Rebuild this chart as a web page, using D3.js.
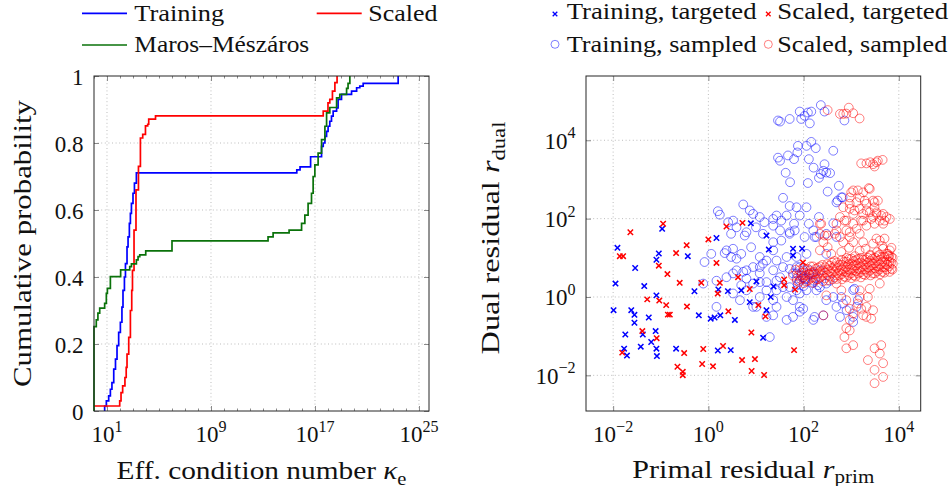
<!DOCTYPE html>
<html>
<head>
<meta charset="utf-8">
<script src="https://cdn.jsdelivr.net/npm/d3@7"></script>
<style>
  html, body { margin: 0; padding: 0; background: #fff; }
  svg text { font-family: "Liberation Serif", "DejaVu Serif", serif; }
</style>
</head>
<body>
<svg id="chart" width="952" height="486"></svg>
<script>
// ---------------- data ----------------
// Empirical CDFs of the effective condition number: [kappa, cumulative probability]
const ecdfTraining = [
  [6.6, 0], [6.6, 0.015], [8.9, 0.03], [13.5, 0.045], [18.2, 0.065], [24, 0.085], [33, 0.125],
  [45, 0.155], [59, 0.195], [79, 0.235], [107, 0.265], [141, 0.31], [170, 0.36], [219, 0.40],
  [263, 0.44], [347, 0.49], [417, 0.52], [525, 0.56], [631, 0.59], [759, 0.62], [1000, 0.65],
  [1290, 0.68], [1820, 0.711], [3.98e15, 0.72], [7.1e15, 0.729], [4.6e16, 0.759], [3.2e17, 0.79],
  [4.3e17, 0.80], [5.8e17, 0.82], [7.8e17, 0.835], [1.02e18, 0.85], [1.38e18, 0.865],
  [1.86e18, 0.88], [2.5e18, 0.895], [4.6e18, 0.905], [6.0e18, 0.93], [1.1e19, 0.945],
  [6.5e19, 0.955], [1.6e20, 0.965], [2.8e20, 0.97], [5.1e20, 0.978], [2.5e23, 1.0]
];
const ecdfScaled = [
  [1, 0.015], [95, 0.03], [120, 0.055], [160, 0.075], [240, 0.10], [300, 0.13], [347, 0.17],
  [470, 0.22], [631, 0.30], [800, 0.36], [912, 0.42], [1200, 0.54], [1700, 0.66], [2630, 0.73],
  [3720, 0.815], [5600, 0.826], [9100, 0.851], [1.35e4, 0.856], [1.62e4, 0.871], [5.4e4, 0.881],
  [4.3e17, 0.895], [1.0e18, 0.92], [1.38e18, 0.93], [2.2e18, 0.955], [3.4e18, 0.98], [5.0e18, 1.0]
];
const ecdfMaros = [
  [1, 0], [1, 0.252], [1.5, 0.272], [2.0, 0.292], [2.75, 0.307], [6.6, 0.321], [8.9, 0.351],
  [10.7, 0.366], [18.2, 0.401], [112, 0.421], [562, 0.431], [759, 0.439], [1820, 0.451],
  [2450, 0.461], [3310, 0.466], [9550, 0.478], [1e6, 0.508], [2.45e13, 0.52], [6.0e13, 0.532],
  [1.02e15, 0.54], [9.3e15, 0.56], [1.66e16, 0.585], [2.95e16, 0.62], [5.4e16, 0.65],
  [7.2e16, 0.70], [9.8e16, 0.735], [1.74e17, 0.77], [3.2e17, 0.81], [5.8e17, 0.85],
  [7.8e17, 0.89], [1.38e18, 0.906], [4.6e18, 0.935], [8.1e18, 0.945], [2.7e19, 0.963],
  [3.5e19, 0.978], [4.8e19, 1.0]
];
const curveNames = ["Training", "Scaled", "Maros–Mészáros"];

// Residual pairs: [primal residual, dual residual]
const trainingTargeted = [
  [0.0123, 18], [0.0112, 2.2], [0.0102, 0.46], [0.029, 5.5], [0.045, 1.9], [0.024, 0.46],
  [0.028, 0.35], [0.028, 0.22], [0.056, 0.30], [0.018, 0.11], [0.042, 0.11], [0.038, 0.054],
  [0.017, 0.048], [0.0195, 0.032], [0.063, 0.071], [0.078, 0.135], [0.081, 0.048], [0.083, 0.031],
  [0.081, 1.1], [0.081, 8.9], [0.091, 12.9], [0.37, 11], [0.21, 0.048], [0.51, 1.4], [0.63, 0.34],
  [1.12, 0.28], [1.35, 0.30], [1.78, 0.34], [1.58, 0.043], [2.95, 0.044], [1.62, 1.55], [2.57, 1.41],
  [3.6, 0.26], [4.9, 1.48], [7.4, 0.74], [10.2, 2.5], [16.6, 0.46], [20.4, 1.0], [23.4, 1.86],
  [14.1, 0.091], [18.6, 16.2], [16.6, 37], [60, 17], [60, 11.5], [93, 17], [1.48, 32], [0.107, 55],
  [7.8, 76]
];
const scaledTargeted = [
  [0.023, 45], [0.0138, 11], [0.0162, 11], [0.35, 21], [0.091, 6.3], [0.21, 13.2], [0.138, 3.85],
  [0.25, 2.3], [0.052, 0.87], [0.093, 0.81], [0.13, 0.62], [0.141, 0.355], [0.155, 0.355],
  [0.355, 0.57], [0.71, 2.3], [1.48, 7.4], [1.0, 29.5], [1.74, 2.3], [1.57, 1.22], [2.63, 0.43],
  [4.2, 3.2], [7.4, 1.6], [11.2, 0.62], [15.8, 0.32], [8.0, 0.124], [39, 2.8], [39, 2.0], [66, 1.54],
  [63, 0.044], [97, 7.6], [0.041, 0.135], [0.082, 0.089], [0.0155, 0.038], [0.31, 0.037],
  [0.78, 0.047], [2.03, 0.056], [0.74, 0.0195], [1.25, 0.017], [0.224, 0.0166], [0.29, 0.0123],
  [0.29, 0.0101], [5.1, 0.0245], [9.5, 0.026], [8.1, 0.0129], [14.8, 0.0102], [0.112, 74],
  [2.4, 63], [5.2, 78]
];
const trainingSampled = [
  [29, 3.2e4], [32, 3.0e4], [51, 3.5e4], [83, 5.4e4], [89, 3.5e4], [105, 4.2e4], [123, 5.1e4],
  [135, 2.7e4], [145, 5.4e4], [230, 7.9e4], [275, 5.4e4], [720, 3.2e4],
  [145, 9100], [115, 7200], [76, 7200], [74, 4900], [180, 6300], [420, 5400], [29, 3600], [32, 3000],
  [47, 4100], [63, 3300], [129, 3300], [42, 1480], [52, 850], [123, 810], [162, 2000], [210, 1100],
  [260, 1660], [275, 2450], [300, 1500], [360, 1450], [230, 1380], [550, 690], [320, 490], [490, 260],
  [620, 350],
  [37, 340], [51, 210], [115, 195], [71, 195], [5.4, 230], [1.58, 155], [1.74, 126], [7.4, 162],
  [27, 120], [44, 120], [83, 120], [210, 110], [129, 74], [63, 74], [34, 89], [23, 98], [12, 110],
  [8.7, 132], [3.3, 89], [2.6, 81], [10, 60], [6.3, 45], [3.9, 60], [15, 81], [23, 66], [32, 50],
  [51, 45], [65, 50], [105, 34], [160, 50], [420, 76], [520, 290], [660, 350],
  [0.83, 7.8], [1.15, 12.6], [2.2, 13.2], [3.3, 17], [4.9, 12.6], [7.9, 18.6], [12, 10.5], [23, 15.5],
  [34, 27.5], [51, 41], [170, 34], [3.0, 41], [5.8, 37], [14, 41], [23, 25],
  [5.4, 4.4], [8.7, 5.8], [14, 7.1], [6.3, 2.95], [12, 4.0], [23, 4.8], [32, 3.2], [51, 5.2], [71, 5.8],
  [107, 2.95], [83, 2.6], [16.6, 2.4], [27, 1.48], [51, 1.78], [83, 1.23], [60, 0.83], [83, 0.56],
  [98, 0.5], [27, 0.56], [23, 0.34], [44, 0.26], [19.5, 0.095], [4.9, 2.0], [3.3, 4.0], [170, 0.31],
  [160, 0.26], [260, 0.34], [300, 0.83], [420, 1.0], [620, 1.0], [800, 0.46], [1100, 0.31],
  [1100, 0.23], [1170, 1.62], [1380, 0.83], [490, 0.56], [580, 0.31], [186, 1.48], [220, 1.78],
  [300, 2.2], [160, 4.0], [115, 12.6], [186, 34], [300, 41], [490, 34], [10.2, 0.56],
  [2.4, 15.5], [3.9, 9.5], [3.0, 10.5], [300, 12.6], [220, 4.8], [355, 2.6], [135, 4.8], [98, 3.2],
  [160, 2.6], [71, 4.0], [83, 5.8],
  [0.78, 2.2], [1.48, 2.6], [2.4, 3.2], [6.3, 1.48], [8.7, 2.2], [12, 1.0], [16.6, 1.48], [27, 2.6],
  [37, 5.8], [60, 4.0], [71, 2.95], [98, 4.8], [6.3, 4.8], [3.9, 4.8], [12, 5.8], [16.6, 8.5],
  [27, 8.5], [44, 10.5], [71, 10.5], [1.48, 0.56], [3.3, 1.23], [4.6, 0.83], [8.7, 0.56], [23, 0.83],
  [44, 1.0], [71, 1.48], [115, 1.48], [83, 0.42], [60, 0.31], [16.6, 0.31], [12, 2.4], [37, 1.78],
  [90, 3.5], [110, 2.8], [130, 3.9], [150, 2.3], [75, 2.1], [100, 1.9], [180, 3.0], [200, 2.0],
  [670, 0.68], [1290, 0.56], [1100, 1.5]
];
const scaledSampled = [
  [320, 5.9e4], [580, 4.7e4], [680, 4.7e4], [790, 4.8e4], [890, 6.8e4], [1100, 4.9e4], [1500, 3.6e4],
  [1620, 2570], [2090, 2570], [2510, 2750], [3090, 2140], [3630, 3020], [4570, 3160], [3390, 2750],
  [2880, 2450],
  [1100, 525], [1780, 468], [2340, 603], [1510, 347], [930, 347], [1290, 263], [2090, 240],
  [2880, 288], [3090, 195], [1510, 178], [930, 178], [680, 195], [1100, 132], [1780, 132],
  [2450, 145], [3390, 132], [4270, 120], [5500, 110], [6460, 98], [3980, 89], [2630, 98], [1620, 89],
  [1100, 74], [720, 89], [490, 74], [490, 50], [790, 50], [1290, 55], [2090, 66], [3090, 74],
  [4680, 74], [2880, 110], [220, 74], [320, 37], [580, 34], [930, 34], [3390, 31], [5010, 31],
  [3630, 288],
  [1000, 468], [1380, 525], [2450, 575], [3090, 263], [1910, 288], [930, 240], [1170, 162],
  [2090, 162], [3390, 145], [4680, 132], [5010, 89], [1780, 89], [790, 89], [580, 110], [450, 41],
  [930, 45], [1510, 41], [3980, 27.5], [6460, 15.5], [4680, 17], [2880, 23], [1780, 25], [1100, 25],
  [680, 25], [320, 18.6], [380, 12.6], [620, 14.1], [234, 74], [275, 37], [220, 41], [5890, 12.6],
  [260, 25], [220, 15.5],
  [1500, 15], [2500, 12], [3500, 14], [6000, 11], [800, 10], [1200, 11], [2000, 17], [4500, 20],
  [7000, 18], [900, 18], [60, 3.5], [68, 5.0], [72, 2.6],
  [80, 2.4], [77, 3.55], [82, 4.79], [101, 2.24], [97, 3.02], [103, 4.17], [99, 5.62],
  [124, 2.63], [129, 3.72], [122, 5.25], [160, 2.29], [155, 3.16], [162, 4.37], [157, 6.03],
  [197, 2.82], [204, 3.98], [199, 5.62], [255, 2.51], [247, 3.47], [253, 4.79], [249, 6.61],
  [312, 2.63], [320, 3.63], [318, 5.01], [314, 6.92], [404, 2.82], [393, 3.98], [400, 5.5], [396, 7.59],
  [495, 2.88], [507, 3.98], [499, 5.5], [503, 7.59], [640, 2.82], [625, 3.8], [633, 5.01], [628, 6.61],
  [636, 8.91], [785, 3.16], [802, 4.27], [790, 5.75], [798, 7.94], [1010, 3.02], [990, 3.98],
  [1005, 5.25], [995, 6.92], [1015, 9.55], [1245, 3.31], [1270, 4.57], [1255, 6.31], [1265, 8.71],
  [1600, 3.16], [1570, 4.27], [1590, 5.75], [1580, 7.59], [1610, 10], [1970, 3.63], [2020, 5.01],
  [1990, 6.61], [2005, 9.12], [2540, 3.55], [2490, 4.68], [2520, 6.31], [2500, 8.32], [2550, 11.2],
  [3120, 3.98], [3200, 5.37], [3170, 7.24], [3150, 10], [4030, 3.8], [3940, 5.01], [3990, 6.76],
  [4010, 8.91], [3960, 12], [4950, 4.17], [5080, 5.75], [5020, 7.59], [4990, 10.5], [6380, 4.37],
  [6240, 6.03], [6330, 7.94], [6290, 11.2], [7350, 5.01], [7480, 7.08], [7420, 10],
  [88, 2.82], [91, 4.17], [114, 2.51], [110, 3.55], [113, 5.01], [139, 2.95], [144, 4.17], [140, 6.03],
  [181, 2.75], [175, 3.8], [179, 5.25], [221, 3.16], [227, 4.37], [223, 6.03], [286, 3.02], [279, 4.17],
  [284, 5.75], [350, 3.31], [359, 4.57], [353, 6.31], [452, 3.16], [442, 4.37], [449, 6.03], [445, 8.32],
  [556, 3.55], [568, 4.79], [560, 6.61], [716, 3.31], [700, 4.47], [710, 6.03], [705, 7.94],
  [880, 3.63], [900, 5.01], [886, 6.92], [895, 9.33], [1135, 3.55], [1110, 4.79], [1128, 6.31],
  [1118, 8.32], [1398, 3.98], [1430, 5.25], [1410, 7.24], [1420, 9.55], [1800, 3.8], [1760, 5.01],
  [1785, 6.92], [1770, 8.91], [2210, 4.17], [2265, 5.62], [2240, 7.59], [2225, 10], [2850, 3.98],
  [2790, 5.25], [2825, 7.08], [2805, 9.55], [3500, 4.47], [3590, 6.03], [3560, 8.32], [3530, 11],
  [4520, 4.37], [4420, 5.75], [4480, 7.94], [4450, 10.5], [5560, 5.01], [5690, 6.61], [5630, 8.91],
  [5600, 12.6], [6990, 5.25], [6850, 7.59], [6930, 10.5],
  [260, 0.34], [300, 1.1], [620, 1.48], [790, 0.83], [930, 0.5], [1100, 0.38], [930, 0.26],
  [790, 0.16], [930, 0.14], [720, 0.095], [1100, 0.059], [790, 0.049], [1380, 0.68], [1620, 0.5],
  [1780, 0.34], [2090, 0.31], [2630, 0.28], [2880, 0.46], [2090, 0.56], [1510, 1.0], [2240, 1.0],
  [3090, 0.049], [4270, 0.059], [3980, 0.036], [2240, 0.0245], [4680, 0.0204], [3090, 0.0138],
  [4680, 0.0091], [3090, 0.0063], [490, 2.2], [1510, 1.48], [2450, 1.62], [3980, 2.2]
];
const scatterNames = ["Training, targeted", "Scaled, targeted", "Training, sampled", "Scaled, sampled"];

// Tick values and labels
const kappaTicks = [1e1, 1e9, 1e17, 1e25];
const kappaTickExp = ["1", "9", "17", "25"];
const probTicks = [0, 0.2, 0.4, 0.6, 0.8, 1];
const probTickLabels = ["0", "0.2", "0.4", "0.6", "0.8", "1"];
const residualTicks = [1e-2, 1e0, 1e2, 1e4];
const residualTickExp = ["\u22122", "0", "2", "4"];

// ---------------- drawing ----------------
const FONT = "'Liberation Serif', 'DejaVu Serif', serif";
const COL = { blue: "#0000ff", red: "#ff0000", green: "#0a720a", frame: "#262626", tick: "#8a8a8a", grid: "#bdbdbd" };
const svg = d3.select("#chart");

const L = { x0: 94, x1: 429, y0: 76, y1: 411 };
const R = { x0: 586, x1: 920.7, y0: 76, y1: 411 };

const kx = d3.scaleLog().domain([1, 5.9e25]).range([L.x0, L.x1]);
const py = d3.scaleLinear().domain([0, 1]).range([L.y1, L.y0]);
const rx = d3.scaleLog().domain([2.69e-3, 2.88e4]).range([R.x0, R.x1]);
const ry = d3.scaleLog().domain([1.23e-3, 4.37e5]).range([R.y1, R.y0]);

// text helper: parts = [{t, it, sub, sup}], optional horizontal fit to a width
function label(parent, x, y, parts, o) {
  const g = parent.append("g").attr("transform", `translate(${x},${y})` + (o.rotate ? ` rotate(${o.rotate})` : ""));
  const t = g.append("text").attr("font-family", FONT).style("font-family", FONT)
    .attr("font-size", o.size).attr("text-anchor", o.anchor || "start").attr("fill", "#111");
  parts.forEach(p => {
    const s = t.append("tspan").text(p.t);
    if (p.it) s.attr("font-style", "italic");
    if (p.sub) s.attr("font-size", o.size * 0.7).attr("dy", o.size * 0.22);
    if (p.sup) s.attr("font-size", o.size * 0.7).attr("dy", -o.size * 0.45);
  });
  let sx = o.scale || 1;
  if (o.width) sx = o.width / t.node().getBBox().width;
  if (sx !== 1) t.attr("transform", `scale(${sx},1)`);
  return t;
}

function gridLines(g, box, xs, xv, ys, yv) {
  g.append("g").selectAll("line").data(xv).join("line")
    .attr("x1", d => xs(d)).attr("x2", d => xs(d)).attr("y1", box.y0).attr("y2", box.y1);
  g.append("g").selectAll("line").data(yv).join("line")
    .attr("x1", box.x0).attr("x2", box.x1).attr("y1", d => ys(d)).attr("y2", d => ys(d));
  g.selectAll("line").attr("stroke", COL.grid).attr("stroke-width", 1).attr("stroke-dasharray", "1 2.6");
}

function frameTicks(g, box, xs, xv, ys, yv, len) {
  const axes = [];
  if (xv) {
    axes.push([d3.axisBottom(xs).tickValues(xv), `translate(0,${box.y1})`]);
    axes.push([d3.axisTop(xs).tickValues(xv), `translate(0,${box.y0})`]);
  }
  if (yv) {
    axes.push([d3.axisLeft(ys).tickValues(yv), `translate(${box.x0},0)`]);
    axes.push([d3.axisRight(ys).tickValues(yv), `translate(${box.x1},0)`]);
  }
  axes.forEach(([a, tr]) => {
    const s = g.append("g").attr("transform", tr).call(a.tickSize(-len).tickFormat(() => ""));
    s.select(".domain").remove();
    s.selectAll("text").remove();
    s.selectAll("line").attr("stroke", COL.tick).attr("stroke-width", 1);
  });
}

function frame(g, box) {
  g.append("rect").attr("x", box.x0).attr("y", box.y0)
    .attr("width", box.x1 - box.x0).attr("height", box.y1 - box.y0)
    .attr("fill", "none").attr("stroke", COL.frame).attr("stroke-width", 1);
}

const crossPath = s => `M${-s},${-s}L${s},${s}M${-s},${s}L${s},${-s}`;

// ---- left panel: cumulative distribution of the condition number ----
const gl = svg.append("g");
gridLines(gl, L, kx, kappaTicks, py, probTicks.slice(1, -1));
frameTicks(gl, L, kx, kappaTicks, py, probTicks, 5);
frameTicks(gl, L, kx, d3.range(0, 26).map(e => Math.pow(10, e)).filter(v => !kappaTicks.includes(v)), null, null, 2.5);

const stepLine = d3.line().x(d => kx(d[0])).y(d => py(d[1])).curve(d3.curveStepAfter);
const curves = [
  { data: ecdfTraining, color: COL.blue },
  { data: ecdfScaled, color: COL.red },
  { data: ecdfMaros, color: COL.green }
];
gl.append("g").selectAll("path").data(curves).join("path")
  .attr("d", d => stepLine(d.data))
  .attr("fill", "none").attr("stroke", d => d.color).attr("stroke-width", 1.7)
  .attr("stroke-linejoin", "miter");
frame(gl, L);

probTicks.forEach((v, i) => label(gl, L.x0 - 10.5, py(v) + 8.5, [{ t: probTickLabels[i] }], { size: 23, anchor: "end" }));
kappaTicks.forEach((v, i) => label(gl, kx(v), 442, [{ t: "10" }, { t: kappaTickExp[i], sup: true }], { size: 23, anchor: "middle" }));

label(gl, 261.5, 479, [{ t: "Eff. condition number " }, { t: "\u03ba", it: true }, { t: "e", sub: true }],
  { size: 26, anchor: "middle", width: 290 });
label(gl, 31, 243.5, [{ t: "Cumulative probability" }], { size: 26, anchor: "middle", rotate: -90, width: 287 });

// legend
const legL = gl.append("g");
[[82, 13.3, 134.3, 20.7, 0, 90], [316.7, 13.3, 368.3, 20.7, 1, 0], [82, 45, 134.3, 52.3, 2, 175]].forEach(([lx, ly, tx, ty, i, w]) => {
  legL.append("line").attr("x1", lx).attr("x2", lx + 45).attr("y1", ly).attr("y2", ly)
    .attr("stroke", curves[i].color).attr("stroke-width", 1.7);
  label(legL, tx, ty, [{ t: curveNames[i] }], w ? { size: 24, width: w } : { size: 24, scale: 1.08 });
});

// ---- right panel: primal vs dual residuals ----
const gr = svg.append("g");
gridLines(gr, R, rx, residualTicks, ry, residualTicks);
frameTicks(gr, R, rx, residualTicks, ry, residualTicks, 5);

svg.append("clipPath").attr("id", "clipR").append("rect")
  .attr("x", R.x0).attr("y", R.y0).attr("width", R.x1 - R.x0).attr("height", R.y1 - R.y0);
const plotR = gr.append("g").attr("clip-path", "url(#clipR)");

const circleSets = [
  { data: trainingSampled, color: COL.blue },
  { data: scaledSampled, color: COL.red }
];
circleSets.forEach(s => {
  plotR.append("g").selectAll("circle").data(s.data).join("circle")
    .attr("cx", d => rx(d[0])).attr("cy", d => ry(d[1])).attr("r", 4.4)
    .attr("fill", "none").attr("stroke", s.color).attr("stroke-opacity", 0.5).attr("stroke-width", 1);
});
const crossSets = [
  { data: trainingTargeted, color: COL.blue },
  { data: scaledTargeted, color: COL.red }
];
crossSets.forEach(s => {
  plotR.append("g").selectAll("path").data(s.data).join("path")
    .attr("transform", d => `translate(${rx(d[0])},${ry(d[1])})`)
    .attr("d", crossPath(2.7))
    .attr("fill", "none").attr("stroke", s.color).attr("stroke-width", 1.5);
});
frame(gr, R);

residualTicks.forEach((v, i) => {
  label(gr, rx(v), 442, [{ t: "10" }, { t: residualTickExp[i], sup: true }], { size: 23, anchor: "middle" });
  label(gr, R.x0 - 10.5, ry(v) + 8.5, [{ t: "10" }, { t: residualTickExp[i], sup: true }], { size: 23, anchor: "end" });
});

label(gr, 753.3, 477.7, [{ t: "Primal residual " }, { t: "r", it: true }, { t: "prim", sub: true }],
  { size: 26, anchor: "middle", width: 242 });
label(gr, 499, 238, [{ t: "Dual residual " }, { t: "r", it: true }, { t: "dual", sub: true }],
  { size: 26, anchor: "middle", rotate: -90, width: 233 });

// legend
const legR = gr.append("g");
const legItems = [
  { x: 555, y: 14, tx: 566.7, ty: 19, kind: "x", color: COL.blue, w: 190 },
  { x: 768.3, y: 14, tx: 777.3, ty: 19, kind: "x", color: COL.red, w: 171 },
  { x: 555, y: 44.3, tx: 566.7, ty: 51.7, kind: "o", color: COL.blue, w: 190 },
  { x: 768.3, y: 44.3, tx: 777.3, ty: 51.7, kind: "o", color: COL.red, w: 170 }
];
legItems.forEach((it, i) => {
  if (it.kind === "x") {
    legR.append("path").attr("transform", `translate(${it.x},${it.y})`).attr("d", crossPath(2.3))
      .attr("fill", "none").attr("stroke", it.color).attr("stroke-width", 1.3);
  } else {
    legR.append("circle").attr("cx", it.x).attr("cy", it.y).attr("r", 4)
      .attr("fill", "none").attr("stroke", it.color).attr("stroke-opacity", 0.5).attr("stroke-width", 1);
  }
  label(legR, it.tx, it.ty, [{ t: scatterNames[i] }], { size: 24, width: it.w });
});
</script>
</body>
</html>
